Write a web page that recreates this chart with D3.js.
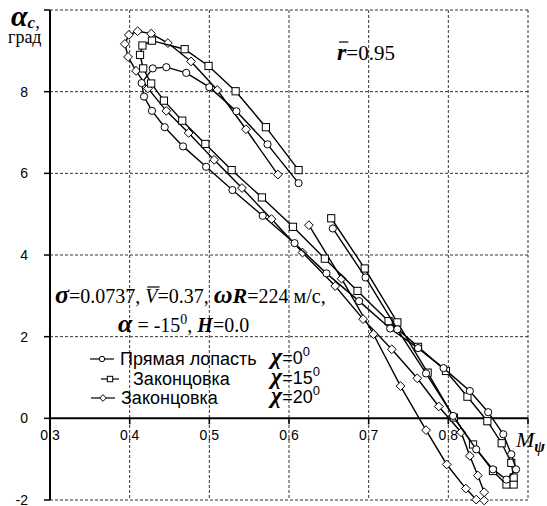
<!DOCTYPE html>
<html>
<head>
<meta charset="utf-8">
<script src="https://cdn.jsdelivr.net/npm/d3@7/dist/d3.min.js"></script>
<style>
body{margin:0;background:#fff;}
.grid{stroke:#333;stroke-width:1;stroke-dasharray:3,2;fill:none;}
.axis{stroke:#000;stroke-width:2;}
.tick{font-family:"Liberation Sans",Arial,sans-serif;font-size:14px;}
.series{fill:none;stroke:#000;stroke-width:1.4;}
.mk{fill:#fff;stroke:#000;stroke-width:1;}
.serif{font-family:"Liberation Serif","Times New Roman",serif;}
.sans{font-family:"Liberation Sans",Arial,sans-serif;}
</style>
</head>
<body>
<svg></svg>
<script>
var width = 547,
    height = 506;

var xTicks = [0.3, 0.4, 0.5, 0.6, 0.7, 0.8, 0.9];
var xLabels = ["0.3", "0.4", "0.5", "0.6", "0.7", "0.8"];
var yTicks = [-2, 0, 2, 4, 6, 8, 10];
var yLabels = [-2, 0, 2, 4, 6, 8];

// straight blade, chi = 0
var mStraight = [0.655,0.696,0.736,0.772,0.806,0.835,0.856,0.873,0.885,0.879,0.869,0.850,0.827,0.794,0.762,0.727,0.688,0.647,0.607,0.567,0.529,0.496,0.467,0.444,0.428,0.418,0.415,0.429,0.446,0.471,0.500,0.534,0.573,0.612];
var aStraight = [4.65,3.45,2.18,1.10,0.06,-0.76,-1.25,-1.50,-1.25,-0.88,-0.39,0.15,0.67,1.23,1.72,2.20,2.87,3.55,4.29,4.96,5.59,6.16,6.66,7.13,7.53,7.88,8.21,8.57,8.60,8.46,8.11,7.52,6.71,5.76];

// tip, chi = 15
var mTip15 = [0.653,0.695,0.736,0.774,0.807,0.831,0.856,0.873,0.882,0.882,0.879,0.867,0.849,0.824,0.797,0.762,0.725,0.686,0.645,0.605,0.566,0.528,0.495,0.466,0.443,0.427,0.417,0.413,0.416,0.428,0.469,0.499,0.533,0.571,0.612];
var aTip15 = [4.90,3.67,2.35,1.12,0.02,-0.64,-1.29,-1.62,-1.62,-1.45,-1.09,-0.61,-0.07,0.53,1.16,1.75,2.38,3.12,3.91,4.69,5.41,6.08,6.72,7.29,7.78,8.20,8.57,8.90,9.13,9.25,9.04,8.63,8.01,7.13,6.08];

// tip, chi = 20
var mTip20 = [0.625,0.666,0.706,0.740,0.772,0.798,0.822,0.835,0.845,0.845,0.837,0.827,0.816,0.788,0.761,0.729,0.693,0.658,0.617,0.578,0.541,0.506,0.474,0.446,0.423,0.408,0.398,0.394,0.399,0.410,0.427,0.448,0.477,0.510,0.546,0.586];
var aTip20 = [4.73,3.42,2.06,0.79,-0.29,-1.13,-1.72,-1.99,-2.01,-1.81,-1.40,-0.92,-0.34,0.29,0.98,1.69,2.43,3.24,4.06,4.88,5.64,6.33,6.99,7.53,8.08,8.51,8.85,9.17,9.39,9.48,9.42,9.19,8.74,8.04,7.08,5.97];

var svg = d3.select("svg").attr("width", width).attr("height", height);

var x = d3.scaleLinear().domain([0.3, 0.9]).range([50, 528]);
var y = d3.scaleLinear().domain([-2, 10]).range([500, 10]);

// tick labels (under the grid, as in the original)
svg.selectAll(".xl").data(xLabels).enter().append("text")
	.attr("class", "tick")
	.attr("x", function(d){ return x(+d); })
	.attr("y", 440)
	.attr("text-anchor", "middle")
	.text(function(d){ return d; });

svg.selectAll(".yl").data(yLabels).enter().append("text")
	.attr("class", "tick")
	.attr("x", 28)
	.attr("y", function(d){ return y(d) + 5; })
	.attr("text-anchor", "end")
	.text(function(d){ return d; });

// grid
svg.selectAll(".vg").data(xTicks.slice(1)).enter().append("line")
	.attr("class", "grid")
	.attr("x1", function(d){ return x(d); })
	.attr("x2", function(d){ return x(d); })
	.attr("y1", y(10))
	.attr("y2", y(-2));

svg.selectAll(".hg").data(yTicks.filter(function(d){ return d != 0; })).enter().append("line")
	.attr("class", "grid")
	.attr("x1", x(0.3))
	.attr("x2", x(0.9))
	.attr("y1", function(d){ return y(d); })
	.attr("y2", function(d){ return y(d); });

// axes
svg.append("line").attr("class", "axis")
	.attr("x1", x(0.3)).attr("x2", x(0.3)).attr("y1", y(10)).attr("y2", y(-2));
svg.append("line").attr("class", "axis")
	.attr("x1", x(0.3)).attr("x2", x(0.9)).attr("y1", y(0)).attr("y2", y(0));

svg.selectAll(".xt").data(xTicks).enter().append("line")
	.attr("class", "axis").style("stroke-width", 1.5)
	.attr("x1", function(d){ return x(d); })
	.attr("x2", function(d){ return x(d); })
	.attr("y1", y(0)).attr("y2", y(0) + 6);

svg.selectAll(".yt").data(yTicks).enter().append("line")
	.attr("class", "axis").style("stroke-width", 1.5)
	.attr("x1", x(0.3) - 6).attr("x2", x(0.3))
	.attr("y1", function(d){ return y(d); })
	.attr("y2", function(d){ return y(d); });

// markers
function circleMark(g, cx, cy, k) {
	k = k || 1;
	g.append("circle").attr("class", "mk").attr("cx", cx).attr("cy", cy).attr("r", 3.6 * k);
}
function squareMark(g, cx, cy, k) {
	k = k || 1;
	var h = 3.6 * k;
	g.append("rect").attr("class", "mk").attr("x", cx - h).attr("y", cy - h).attr("width", 2 * h).attr("height", 2 * h);
}
function diamondMark(g, cx, cy, k) {
	k = k || 1;
	var s = 4.4 * k;
	g.append("path").attr("class", "mk")
		.attr("d", "M" + cx + "," + (cy - s) + "L" + (cx + s) + "," + cy + "L" + cx + "," + (cy + s) + "L" + (cx - s) + "," + cy + "Z");
}

var series = [
	{ m: mTip20, a: aTip20, mark: diamondMark },
	{ m: mTip15, a: aTip15, mark: squareMark },
	{ m: mStraight, a: aStraight, mark: circleMark }
];

var line = d3.line()
	.x(function(d){ return x(d[0]); })
	.y(function(d){ return y(d[1]); });

series.forEach(function(s) {
	var pts = s.m.map(function(v, i){ return [v, s.a[i]]; });
	var g = svg.append("g");
	g.append("path").attr("class", "series").attr("d", line(pts));
	pts.forEach(function(p){ s.mark(g, x(p[0]), y(p[1])); });
});

// axis titles
var yt = svg.append("text").attr("class", "serif").attr("x", 11).attr("y", 26);
yt.append("tspan").attr("font-size", 30).attr("font-weight", "bold").attr("font-style", "italic").text("α");
yt.append("tspan").attr("font-size", 17).attr("font-weight", "bold").attr("font-style", "italic").attr("dy", 2).text("c");
yt.append("tspan").attr("font-size", 18).text(",");
svg.append("text").attr("class", "serif").attr("x", 8).attr("y", 43).attr("font-size", 18).text("град");

var xt = svg.append("text").attr("class", "serif").attr("x", 516).attr("y", 447);
xt.append("tspan").attr("font-size", 22).attr("font-style", "italic").text("M");
xt.append("tspan").attr("font-size", 16).attr("font-weight", "bold").attr("font-style", "italic").attr("dy", 5).text("ψ");

// r bar
var rt = svg.append("text").attr("class", "serif").attr("x", 337).attr("y", 60);
var rch = rt.append("tspan").attr("font-size", 24).attr("font-weight", "bold").attr("font-style", "italic").text("r");
rt.append("tspan").attr("font-size", 21).text("=0.95");

// parameters
var p1 = svg.append("text").attr("class", "serif").attr("x", 55).attr("y", 303).attr("font-size", 20);
p1.append("tspan").attr("font-size", 26).attr("font-weight", "bold").attr("font-style", "italic").text("σ");
p1.append("tspan").text("=0.0737, ");
var vch = p1.append("tspan").attr("font-style", "italic").text("V");
p1.append("tspan").text("=0.37, ");
p1.append("tspan").attr("font-size", 26).attr("font-weight", "bold").attr("font-style", "italic").text("ω");
p1.append("tspan").attr("font-size", 22).attr("font-weight", "bold").attr("font-style", "italic").text("R");
p1.append("tspan").text("=224 м/с,");

var p2 = svg.append("text").attr("class", "serif").attr("x", 118).attr("y", 332).attr("font-size", 20);
p2.append("tspan").attr("font-size", 26).attr("font-weight", "bold").attr("font-style", "italic").text("α");
p2.append("tspan").text(" = -15");
p2.append("tspan").attr("font-size", 14).attr("dy", -8).text("0");
p2.append("tspan").attr("dy", 8).text(", ");
p2.append("tspan").attr("font-style", "italic").attr("font-weight", "bold").text("H");
p2.append("tspan").text("=0.0");

function overline(ts, lift, dx) {
	var n = ts.node();
	var a = n.getStartPositionOfChar(0), b = n.getEndPositionOfChar(0);
	svg.append("line").attr("stroke", "#000").attr("stroke-width", 1.2)
		.attr("x1", a.x + dx).attr("x2", b.x + dx)
		.attr("y1", a.y - lift).attr("y2", a.y - lift);
}
overline(vch, 16, 2);
overline(rch, 18, 2);

// legend
var legNames = ["Прямая лопасть", "Законцовка", "Законцовка"];
var legChi = ["0", "15", "20"];
var legMarks = [circleMark, squareMark, diamondMark];
var legLine = [[90, 114], [101, 119], [91, 115]];
var legText = [120, 133, 121];
var legY = [359, 379, 398];

legNames.forEach(function(name, i) {
	var g = svg.append("g");
	g.append("line").attr("stroke", "#000").attr("stroke-width", 1.2)
		.attr("x1", legLine[i][0]).attr("x2", legLine[i][1])
		.attr("y1", legY[i]).attr("y2", legY[i]);
	legMarks[i](g, (legLine[i][0] + legLine[i][1]) / 2, legY[i], 0.75);
	g.append("text").attr("class", "sans").attr("font-size", 18)
		.attr("x", legText[i]).attr("y", legY[i] + 6).text(name);
	var c = g.append("text").attr("x", 271).attr("y", legY[i] + 5);
	c.append("tspan").attr("class", "serif").attr("font-size", 24).attr("font-weight", "bold").attr("font-style", "italic").text("χ");
	c.append("tspan").attr("class", "sans").attr("font-size", 18).text("=" + legChi[i]);
	c.append("tspan").attr("class", "sans").attr("font-size", 13).attr("dy", -8).text("0");
});
</script>
</body>
</html>
